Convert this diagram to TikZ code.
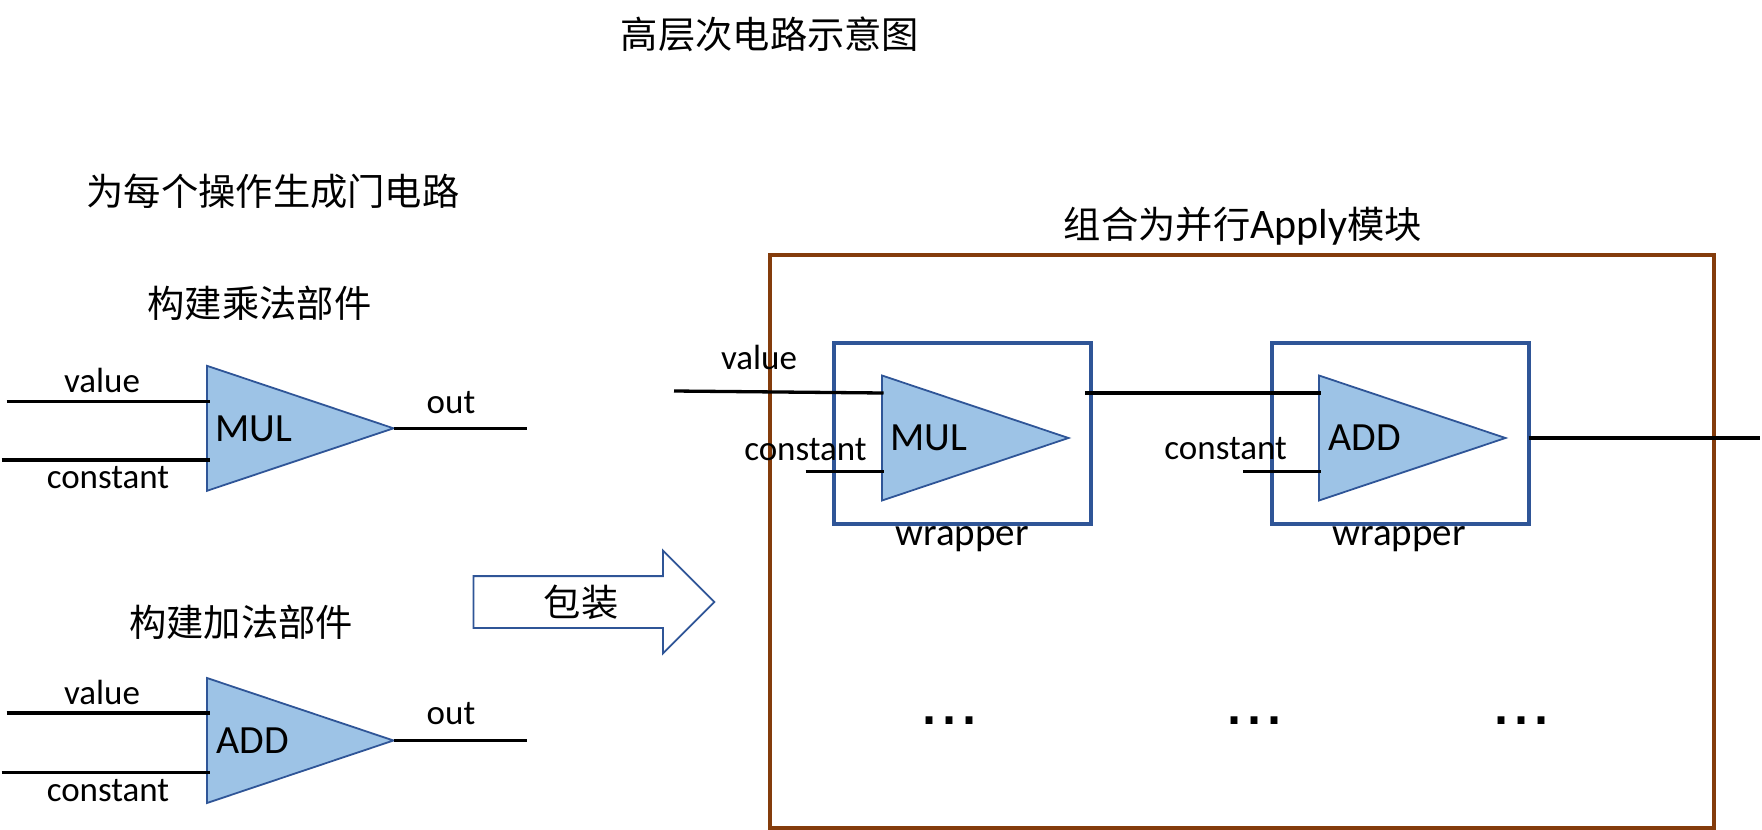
\documentclass[tikz,border=0pt]{standalone}
\usepackage{fontspec}
\setmainfont{Carlito}
\newfontfamily\cjk{Noto Sans CJK SC}
\newfontfamily\dotfont{Liberation Sans}
\usetikzlibrary{shapes.geometric,shapes.arrows}
\definecolor{gateblue}{HTML}{9DC3E6}
\definecolor{edgeblue}{HTML}{2F5597}
\definecolor{modbrown}{HTML}{843C0C}
\tikzset{
gate/.style={isosceles triangle, isosceles triangle stretches, draw=edgeblue, fill=gateblue, line width=1.8pt, inner sep=0pt, outer sep=0pt, minimum width=125pt, minimum height=186.5pt, anchor=lower side},
wrapbox/.style={rectangle, draw=edgeblue, line width=4pt, inner sep=0pt, outer sep=0pt, minimum width=257pt, minimum height=180.5pt},
modbox/.style={rectangle, draw=modbrown, line width=4pt, inner sep=0pt, outer sep=0pt, minimum width=944pt, minimum height=572.5pt},
wrapshape/.style={single arrow, draw=edgeblue, line width=1.8pt, inner xsep=0pt, inner ysep=25pt, outer sep=0pt, single arrow head extend=25.5pt, single arrow tip angle=90, minimum height=241pt},
wire/.style={line width=3.3pt},
cn/.style={font=\cjk\fontsize{37.3}{40}\selectfont, inner sep=0pt},
port/.style={font=\fontsize{35}{38}\selectfont, inner sep=0pt},
wraplabel/.style={font=\fontsize{39}{42}\selectfont, inner sep=0pt},
opname/.style={font=\fontsize{40}{44}\selectfont, inner sep=0pt},
dots/.style={font=\dotfont\fontsize{72}{76}\selectfont, inner sep=0pt, anchor=base}
}
\begin{document}
\begin{tikzpicture}[x=1pt,y=-1pt]
\useasboundingbox (0,0) rectangle (1762,830);
% titles
\node[cn] (title) at (770,34){高层次电路示意图};
\node[cn] (gentitle) at (273,191.5){为每个操作生成门电路};
\node[cn] (multitle) at (259.5,303.5){构建乘法部件};
\node[cn] (addtitle) at (241,622.5){构建加法部件};
\node[font=\fontsize{42}{44}\selectfont, inner sep=0pt] (combtitle) at (1243,226){{\cjk\fontsize{37.3}{40}\selectfont 组合为并行}Apply{\cjk\fontsize{37.3}{40}\selectfont 模块}};
% left gates
\node[gate] (mul) at (207,428.3){};
\node[opname] (multext) at (254,429){MUL};
\coordinate (mulva) at (6.5,401.7);
\coordinate (mulvb) at (210,401.7);
\coordinate (mulca) at (1.5,460);
\coordinate (mulcb) at (210,460);
\coordinate (mulout) at (527,428.3);
\draw[wire](mulva) -- (mulvb);
\draw[wire](mulca) -- (mulcb);
\draw[wire](mul.apex) -- (mulout);
\node[port] (mulval) at (102,380.5){value};
\node[port] (mulcon) at (108,477.5){constant};
\node[port] (mulo) at (451,402.4){out};
\node[gate] (add) at (207,740.5){};
\node[opname] (addtext) at (253,741){ADD};
\coordinate (addva) at (6.5,713);
\coordinate (addvb) at (210,713);
\coordinate (addca) at (1.5,772.4);
\coordinate (addcb) at (210,772.4);
\coordinate (addout) at (527,740.5);
\draw[wire](addva) -- (addvb);
\draw[wire](addca) -- (addcb);
\draw[wire](add.apex) -- (addout);
\node[port] (addval) at (102,692.5){value};
\node[port] (addcon) at (108,790.5){constant};
\node[port] (addo) at (451,714){out};
% wrap arrow
\node[wrapshape] (wrap) at (581,602){};
\node[cn] (wraptext) at (581,602){包装};
% module
\node[modbox] (apply) at (1242,541.3){};
\node[wrapbox] (wrapa) at (962.5,433.6){};
\node[wrapbox] (wrapb) at (1400,433.6){};
\node[gate] (mulb) at (882,438){};
\node[gate] (addb) at (1319,438){};
\coordinate (vin) at (674,391);
\coordinate (vend) at (883.5,393);
\coordinate (linka) at (1085,393);
\coordinate (linkb) at (1320.5,393);
\coordinate (cina) at (805.5,471.2);
\coordinate (cinb) at (883.5,471.2);
\coordinate (cinc) at (1243,471.2);
\coordinate (cind) at (1321,471.2);
\coordinate (outa) at (1528.6,438);
\coordinate (outb) at (1760,438);
\draw[wire](vin) -- (vend);
\draw[wire](linka) -- (linkb);
\draw[wire](cina) -- (cinb);
\draw[wire](cinc) -- (cind);
\draw[wire](outa) -- (outb);
\node[opname] (mulbtext) at (929,438){MUL};
\node[opname] (addbtext) at (1365,438){ADD};
\node[port] (vtext) at (759,357){value};
\node[port] (ctexta) at (805.5,450){constant};
\node[port] (ctextb) at (1225.7,449){constant};
\node[wraplabel] (wtexta) at (962,539){wrapper};
\node[wraplabel] (wtextb) at (1399,539){wrapper};
\node[dots] (dotsa) at (949,724){...};
\node[dots] (dotsb) at (1254.5,724){...};
\node[dots] (dotsc) at (1521,724){...};
\end{tikzpicture}
\end{document}
